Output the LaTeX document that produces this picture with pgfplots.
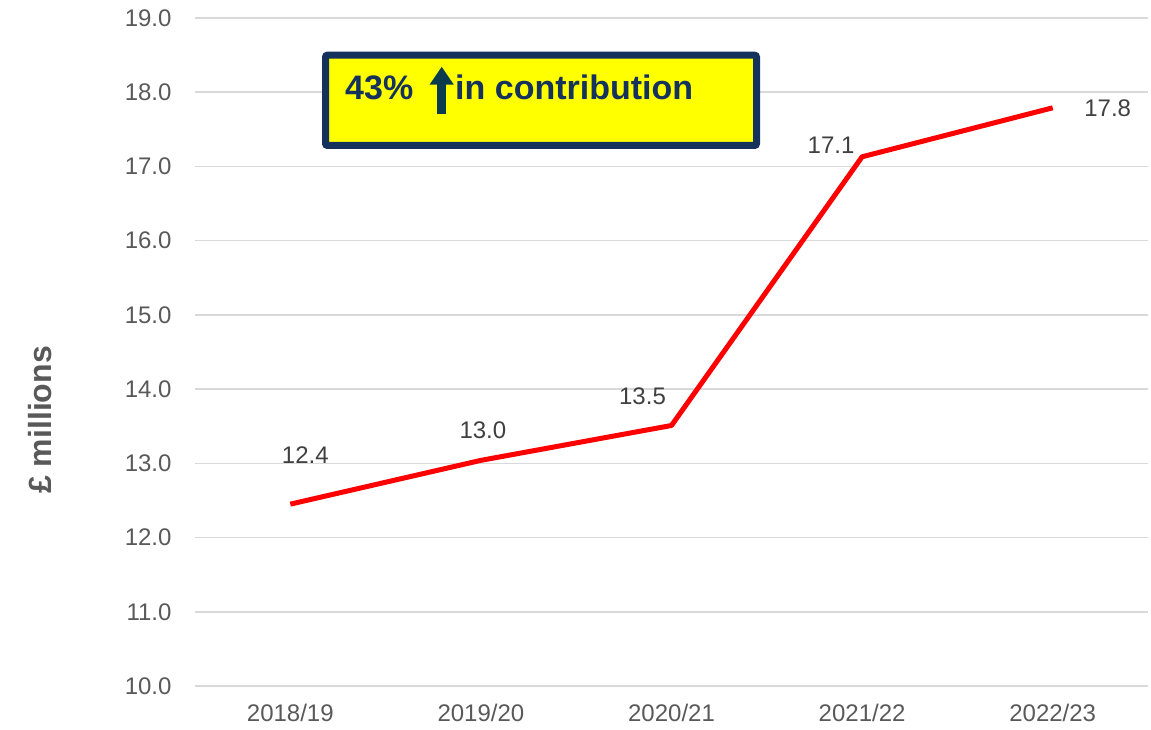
\documentclass[border=0pt]{standalone}
\usepackage{pgfplots}
\pgfplotsset{compat=1.18}
\usepackage{fontspec}
\setmainfont{Liberation Sans}
\usetikzlibrary{arrows.meta}
\definecolor{gridgray}{HTML}{D9D9D9}
\definecolor{ticktext}{HTML}{595959}
\definecolor{labeltext}{HTML}{404040}
\definecolor{navy}{HTML}{14325C}
\definecolor{boxyellow}{HTML}{FFFF00}
\definecolor{arrowteal}{HTML}{0B3C4D}
\begin{document}
\begin{tikzpicture}
\path[use as bounding box] (-195pt,-44pt) rectangle (956pt,686pt);
\begin{axis}[
  at={(0,0)}, anchor=south west,
  scale only axis, width=953pt, height=668pt,
  xmin=-0.5, xmax=4.5, ymin=10, ymax=19,
  xtick={0,1,2,3,4},
  xticklabels={2018/19,2019/20,2020/21,2021/22,2022/23},
  ytick={10,11,...,19},
  yticklabel={\pgfmathprintnumber[fixed,fixed zerofill,precision=1]{\tick}},
  /pgf/number format/assume math mode=true,
  ymajorgrids, xmajorgrids=false,
  major grid style={gridgray, line width=1.5pt},
  axis line style={draw=none},
  major tick length=0pt,
  tick label style={font=\fontsize{24}{28}\selectfont, text=ticktext},
  xticklabel style={yshift=-15pt},
  yticklabel style={xshift=-20pt},
  clip=false,
]
\addplot[red, line width=5pt, line join=round, mark=none] coordinates {
  (0,12.45) (1,13.04) (2,13.51) (3,17.13) (4,17.79)
};
\begin{scope}[every node/.style={font=\fontsize{24}{28}\selectfont, text=labeltext}]
\node at (axis cs:0,12.45) [xshift=15pt, yshift=49pt] {12.4};
\node at (axis cs:1,13.04) [xshift=2pt, yshift=30pt] {13.0};
\node at (axis cs:2,13.51) [xshift=-29pt, yshift=29pt] {13.5};
\node at (axis cs:3,17.13) [xshift=-31pt, yshift=12pt] {17.1};
\node at (axis cs:4,17.79) [xshift=55pt, yshift=0pt] {17.8};
\end{scope}
\end{axis}
% y label
\node[rotate=90, font=\bfseries\fontsize{32}{36}\selectfont, text=ticktext] at (-155pt,266pt) {£ millions};
% annotation box
\draw[navy, line width=7pt, fill=boxyellow, rounded corners=2pt] (130.5pt,540.5pt) rectangle (561.5pt,630.8pt);
\node[anchor=base west, inner sep=0pt, font=\bfseries\fontsize{34}{40}\selectfont, text=navy] at (150pt,586pt) {43\%};
\node[anchor=base west, inner sep=0pt, font=\bfseries\fontsize{34}{40}\selectfont, text=navy] at (260pt,586pt) {in contribution};
\draw[arrowteal, line width=9pt, -{Triangle[width=23pt,length=18pt]}] (246.7pt,572pt) -- (246.7pt,619.3pt);
\end{tikzpicture}
\end{document}
